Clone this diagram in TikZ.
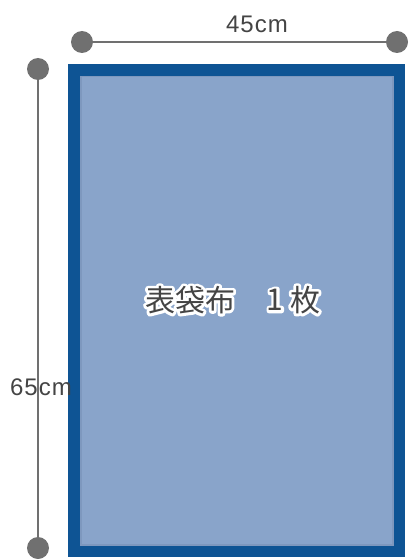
\documentclass[tikz,border=0pt]{standalone}
\usepackage{fontspec}
\setmainfont{Liberation Sans}
\newfontfamily\cjk{Noto Sans CJK JP}
\definecolor{dimgray}{HTML}{707070}
\definecolor{txtgray}{HTML}{444444}
\definecolor{bordblue}{HTML}{0E5494}
\definecolor{fillblue}{HTML}{89A4CA}
\definecolor{edgeblue}{HTML}{7E98BE}
\newcommand{\halotext}[1]{\rlap{\color{white}\special{pdf:literal direct 1 J 1 j 5.5 w 2 Tr}#1\special{pdf:literal direct 0 Tr 0.4 w}}#1}
\tikzset{
  dimdot/.style={circle,fill=dimgray,inner sep=0pt,minimum size=22pt},
  dimline/.style={draw=dimgray,line width=2.6pt},
  dimlabel/.style={text=txtgray,font=\fontsize{24}{25}\selectfont,inner sep=0pt},
  maintext/.style={text=txtgray,font=\cjk\fontsize{30}{31}\selectfont,inner sep=0pt}
}
\begin{document}
\begin{tikzpicture}[x=1pt,y=-1pt]
\useasboundingbox (0,0) rectangle (408,559);
% panel
\fill[bordblue] (68,64) rectangle (405,557) ;
\fill[edgeblue] (80,76) rectangle (394,546);
\fill[fillblue] (82,77) rectangle (392,544);
% dimensions
\node[dimdot] (h1) at (82,42) {};
\node[dimdot] (h2) at (397,42) {};
\draw[dimline] (h1) -- (h2);
\node[dimdot] (v1) at (38,69) {};
\node[dimdot] (v2) at (38,548) {};
\draw[dimline] (v1) -- (v2);
\node[dimlabel] (w) at (257,24) {4\kern1pt5\kern1pt c\kern1pt m};
\node[dimlabel] (hgt) at (41,387) {6\kern1pt5\kern1pt c\kern1pt m};
% center label with halo
\node[maintext] (lbl1) at (190,300) {\halotext{表袋布}};
\node[maintext] (lbl2) at (275,300) {\halotext{1}};
\node[maintext] (lbl3) at (305,300) {\halotext{枚}};
\end{tikzpicture}
\end{document}
